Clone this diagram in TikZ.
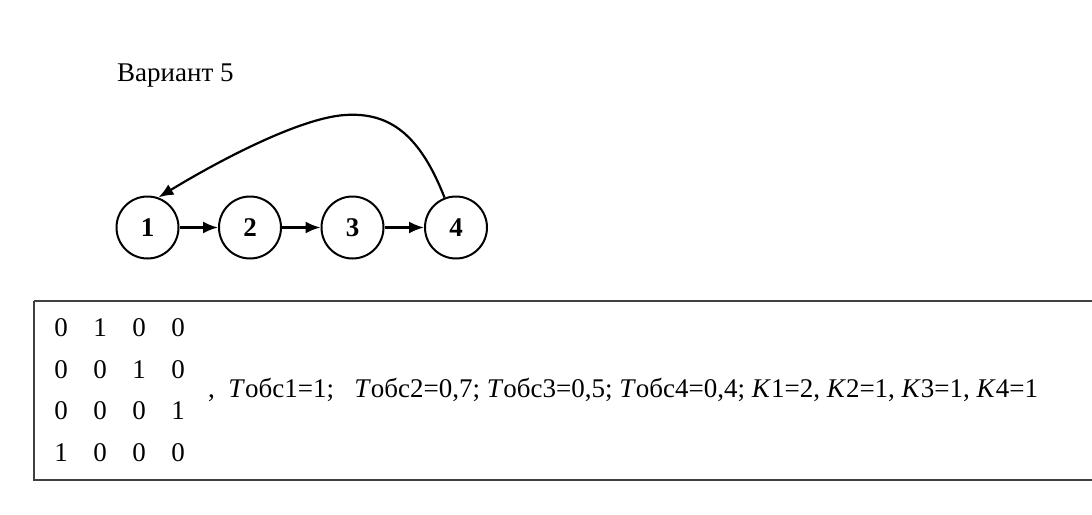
\documentclass[tikz,border=0pt]{standalone}
\usepackage{fontspec}
\setmainfont{Liberation Serif}
\usetikzlibrary{arrows.meta}
\begin{document}
\begin{tikzpicture}[x=1pt,y=-1pt,
  txt/.style={inner sep=0pt,font=\fontsize{27}{32}\selectfont},
  vert/.style={circle,draw,line width=2pt,minimum size=62pt,inner sep=0pt,font=\fontsize{27}{32}\selectfont\bfseries},
  arr/.style={line width=2.2pt,-{Latex[length=15pt,width=12pt]}},
  frame/.style={draw=black!75,line width=2.2pt}]
\useasboundingbox (0,0) rectangle (1092,514);
\node[txt,anchor=base west] (title) at (117,81) {Вариант 5};
\node[vert] (n1) at (147.5,227.5) {1};
\node[vert] (n2) at (250,227.5) {2};
\node[vert] (n3) at (352.5,227.5) {3};
\node[vert] (n4) at (456,227.5) {4};
\draw[arr] (n1) -- (n2);
\draw[arr] (n2) -- (n3);
\draw[arr] (n3) -- (n4);
\draw[arr] (n4.111) .. controls (420,135) and (390,112) .. (345,115) .. controls (300,118) and (220,160) .. (n1.70);
\draw[frame] (34,301) -- (1100,301) (34,301) -- (34,480) -- (1100,480);
\foreach \r/\y/\a/\b/\c/\d in {1/328/0/1/0/0, 2/369.5/0/0/1/0, 3/411/0/0/0/1, 4/452.5/1/0/0/0}{
  \node[txt] (m\r a) at (61,\y) {\a};
  \node[txt] (m\r b) at (100,\y) {\b};
  \node[txt] (m\r c) at (139,\y) {\c};
  \node[txt] (m\r d) at (178,\y) {\d};
}
\node[txt,anchor=base west] (params) at (208,397) {,\ \ \textit{Т}обс1=1;\ \ \ \textit{Т}обс2=0,7; \textit{Т}обс3=0,5; \textit{Т}обс4=0,4; \textit{К}1=2, \textit{К}2=1, \textit{К}3=1, \textit{К}4=1};
\end{tikzpicture}
\end{document}
